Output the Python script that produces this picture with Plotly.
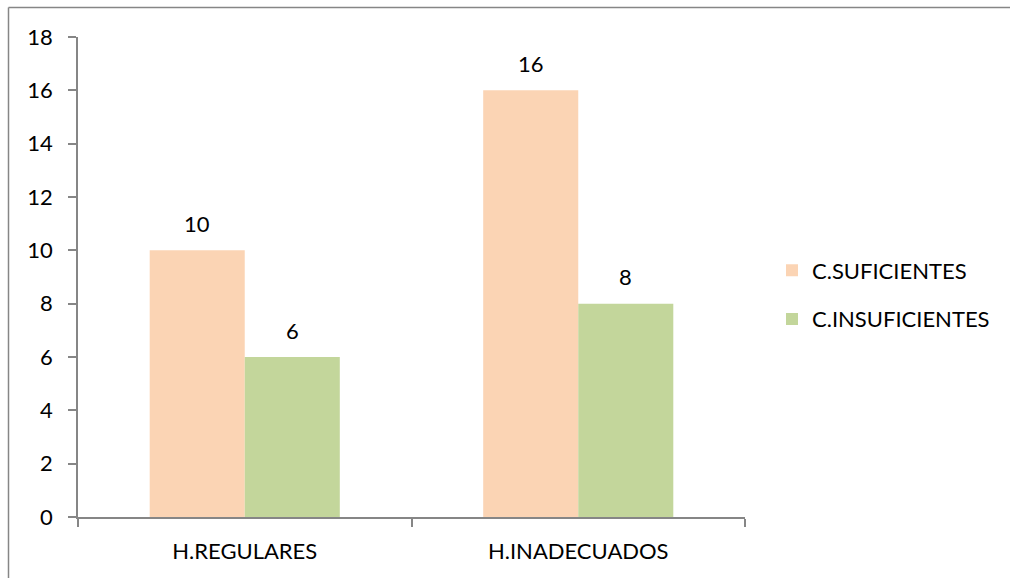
import plotly.graph_objects as go

# Data
categories = ["H.REGULARES", "H.INADECUADOS"]
suficientes = [10, 16]
insuficientes = [6, 8]
series_names = ["C.SUFICIENTES", "C.INSUFICIENTES"]
y_ticks = [0, 2, 4, 6, 8, 10, 12, 14, 16, 18]

ORANGE = "#FBD4B4"
GREEN = "#C3D69B"
AXIS = "#868686"
FONT = "Lato, Calibri, Carlito, sans-serif"
FS = 22

fig = go.Figure()
fig.add_trace(go.Bar(x=categories, y=suficientes, name=series_names[0],
                     marker=dict(color=ORANGE, line=dict(width=0)),
                     legendgroup="a"))
fig.add_trace(go.Bar(x=categories, y=insuficientes, name=series_names[1],
                     marker=dict(color=GREEN, line=dict(width=0)),
                     legendgroup="b"))

# value labels above each bar
BAR_PX = 95
for vals, shift in ((suficientes, -BAR_PX / 2), (insuficientes, BAR_PX / 2)):
    for cat, v in zip(categories, vals):
        fig.add_annotation(x=cat, y=v, text=str(v), showarrow=False,
                           xshift=shift, yshift=27, yanchor="middle",
                           font=dict(family=FONT, size=FS, color="#000000"))

# L-shaped frame along the top and left edges of the canvas
L, R, T, B = 78, 745, 37, 517
pw, ph = R - L, B - T
fx = lambda px: (px - L) / pw
fy = lambda py: (B - py) / ph
fig.add_shape(type="line", xref="paper", yref="paper",
              x0=fx(8.5), x1=fx(1010), y0=fy(7.5), y1=fy(7.5),
              line=dict(color=AXIS, width=1.5))
fig.add_shape(type="line", xref="paper", yref="paper",
              x0=fx(8.5), x1=fx(8.5), y0=fy(7.5), y1=fy(578),
              line=dict(color=AXIS, width=1.5))

fig.update_layout(
    width=1010, height=578,
    margin=dict(l=L, r=1010 - R, t=T, b=578 - B),
    paper_bgcolor="white", plot_bgcolor="white",
    barmode="group", bargap=0.43, bargroupgap=0,
    font=dict(family=FONT, size=FS, color="#000000"),
    showlegend=True,
    legend=dict(x=fx(772), xanchor="left", xref="paper", y=fy(295),
                yanchor="middle",
                font=dict(family=FONT, size=FS, color="#000000"),
                tracegroupgap=17, itemwidth=30, bgcolor="rgba(0,0,0,0)"),
    xaxis=dict(type="category", showline=True, linecolor=AXIS, linewidth=1.5,
               ticks="outside", tickson="boundaries", ticklen=8,
               tickcolor=AXIS, tickwidth=1.5, ticklabelstandoff=14,
               showgrid=False, zeroline=False,
               tickfont=dict(family=FONT, size=FS, color="#000000")),
    yaxis=dict(range=[0, 18], tickvals=y_ticks, showline=True, linecolor=AXIS,
               linewidth=1.5, ticks="outside", ticklen=8, tickcolor=AXIS,
               tickwidth=1.5, ticklabelstandoff=11, showgrid=False,
               zeroline=False,
               tickfont=dict(family=FONT, size=FS, color="#000000")),
)

fig.write_html("out.html")
